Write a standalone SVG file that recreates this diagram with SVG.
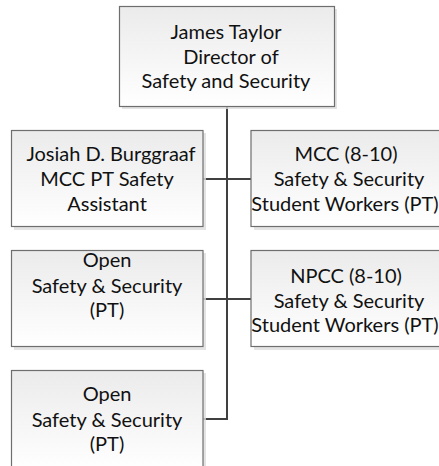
<svg xmlns="http://www.w3.org/2000/svg" width="439" height="466" viewBox="0 0 439 466">
<defs>
<linearGradient id="g" x1="0" y1="0" x2="0" y2="1">
<stop offset="0" stop-color="#ebebeb"/>
<stop offset="1" stop-color="#ffffff"/>
</linearGradient>
</defs>
<style>
.sh{fill:#dcdcdc;opacity:0.8}
.bx{fill:url(#g);stroke:#6e6e6e;stroke-width:1.2}
text{font-family:Lato,"Open Sans","Liberation Sans",sans-serif;font-size:20px;fill:#111;text-anchor:middle}
.c{fill:none;stroke:#404040;stroke-width:2}
</style>
<rect width="439" height="466" fill="#ffffff"/>
<g id="connectors">
<path class="c" d="M227,107 V419 H203"/>
<path class="c" d="M203,179 H251"/>
<path class="c" d="M203,299 H251"/>
</g>
<g id="n-director">
<rect class="sh" x="122" y="9" width="215" height="100"/>
<rect class="bx" x="119.5" y="6.5" width="215" height="100"/>
<text x="226" y="39">James Taylor</text>
<text x="231" y="63.5">Director of</text>
<text x="226" y="88">Safety and Security</text>
</g>
<g id="n-josiah">
<rect class="sh" x="14" y="133" width="192" height="97"/>
<rect class="bx" x="11.5" y="130.5" width="191.5" height="96"/>
<text x="111" y="161">Josiah D. Burggraaf</text>
<text x="107" y="186">MCC PT Safety</text>
<text x="107" y="210.5">Assistant</text>
</g>
<g id="n-mcc">
<rect class="sh" x="254" y="133" width="192" height="97"/>
<rect class="bx" x="251" y="130.5" width="192" height="96"/>
<text x="346" y="161">MCC (8-10)</text>
<text x="349" y="186">Safety &amp; Security</text>
<text x="345" y="210.5">Student Workers (PT)</text>
</g>
<g id="n-open1">
<rect class="sh" x="14" y="253" width="192" height="97"/>
<rect class="bx" x="11.5" y="250.5" width="191.5" height="96"/>
<text x="107" y="267">Open</text>
<text x="107" y="292.5">Safety &amp; Security</text>
<text x="107" y="316.5">(PT)</text>
</g>
<g id="n-npcc">
<rect class="sh" x="254" y="253" width="192" height="97"/>
<rect class="bx" x="251" y="250.5" width="192" height="96"/>
<text x="346" y="282.5">NPCC (8-10)</text>
<text x="349" y="307.5">Safety &amp; Security</text>
<text x="345" y="332">Student Workers (PT)</text>
</g>
<g id="n-open2">
<rect class="sh" x="14" y="373" width="192" height="97"/>
<rect class="bx" x="11.5" y="370.5" width="191.5" height="100"/>
<text x="107" y="401">Open</text>
<text x="107" y="426.5">Safety &amp; Security</text>
<text x="107" y="451">(PT)</text>
</g>
</svg>
